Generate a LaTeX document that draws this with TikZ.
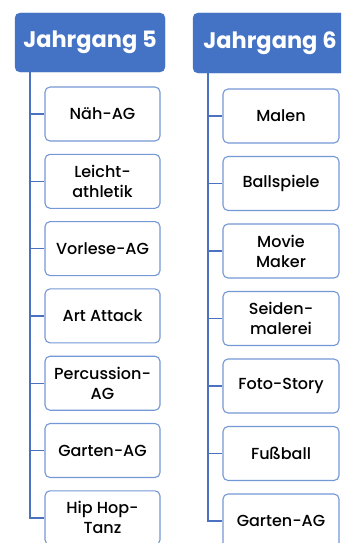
\documentclass[tikz,border=0pt]{standalone}
\usepackage{fontspec}
\setmainfont{Poppins}
\newfontfamily\medfont{Poppins Medium}
\definecolor{hdr}{HTML}{4472C4}
\definecolor{brd}{HTML}{7497D6}
\definecolor{lnk}{HTML}{4A72C0}
\tikzset{
  header/.style={draw=hdr, fill=hdr, rounded corners=5pt, text=white, font=\fontsize{22.5}{26}\selectfont\bfseries, inner sep=0pt, anchor=center},
  item/.style={draw=brd, line width=1.1pt, fill=white, rounded corners=5pt, minimum width=115pt, minimum height=54pt, inner sep=0pt, align=center, font=\medfont\fontsize{16}{20}\selectfont, anchor=center, text=black},
  link/.style={draw=lnk, line width=1.4pt}
}
\begin{document}
\begin{tikzpicture}[x=1pt,y=-1pt]
\useasboundingbox (0,0) rectangle (341,543);
\clip (0,0) rectangle (341,543);
\node[header, minimum width=150pt, minimum height=59pt] (h5) at (90,42.5) {Jahrgang 5};
\node[header, minimum width=154pt, minimum height=60pt] (h6) at (270,43) {Jahrgang 6};
% left column
\node[item] (a1) at (102.5,114) {Näh-AG};
\node[item] (a2) at (102.5,181.3) {Leicht-\\athletik};
\node[item] (a3) at (102.5,248.6) {Vorlese-AG};
\node[item] (a4) at (102.5,315.9) {Art Attack};
\node[item] (a5) at (102.5,383.2) {Percussion-\\AG};
\node[item] (a6) at (102.5,450.5) {Garten-AG};
\node[item] (a7) at (102.5,517.8) {Hip Hop-\\Tanz};
% right column
\node[item, minimum width=116pt] (b1) at (281,116) {Malen};
\node[item, minimum width=116pt] (b2) at (281,183.5) {Ballspiele};
\node[item, minimum width=116pt] (b3) at (281,251) {Movie\\Maker};
\node[item, minimum width=116pt] (b4) at (281,318.5) {Seiden-\\malerei};
\node[item, minimum width=116pt] (b5) at (281,386) {Foto-Story};
\node[item, minimum width=116pt] (b6) at (281,453.5) {Fußball};
\node[item, minimum width=116pt] (b7) at (281,521) {Garten-AG};
\foreach \i in {1,...,7}{
  \draw[link] ([xshift=15pt]h5.south west) |- (a\i.west);
  \draw[link] ([xshift=15pt]h6.south west) |- (b\i.west);
}
\end{tikzpicture}
\end{document}
